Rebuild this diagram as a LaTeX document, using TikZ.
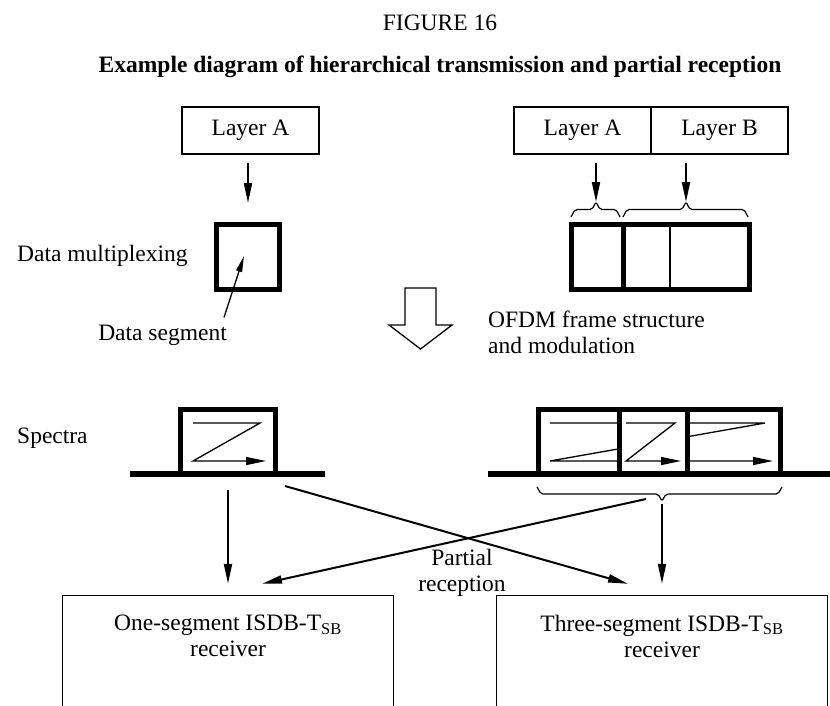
\documentclass[tikz,border=0pt]{standalone}
\usepackage{fontspec}
\setmainfont{Liberation Serif}
\usetikzlibrary{arrows.meta,positioning}

\tikzset{
  txt/.style={inner sep=0pt, font=\fontsize{23.5}{26}\selectfont},
  caption/.style={txt, font=\fontsize{23.5}{26}\selectfont\bfseries},
  layerbox/.style={txt, draw, line width=1.2pt, outer sep=0pt, minimum width=137pt, minimum height=47pt},
  segbox/.style={draw, line width=5pt, inner sep=0pt},
  arr/.style={line width=2pt, -{Triangle[length=20pt,width=8pt]}},
  zline/.style={line width=1.3pt, -{Triangle[length=20pt,width=8pt]}},
  lead/.style={line width=1.3pt, -{Triangle[length=16pt,width=6pt]}},
  brc/.style={line width=1.2pt, rounded corners=2pt},
  floor/.style={line width=6pt},
  rxline/.style={line width=1.2pt},
  rxbox/.style={txt, align=center, minimum width=330pt, minimum height=80pt},
}
\newcommand\zbrace[6]{%
  \draw[brc] (#2,#5) -- ++(4,#6) -- ({#4-4},{#5+#6}) -- (#4,{#5+2*(#6)}) coordinate (#1)
    -- ({#4+4},{#5+#6}) -- ({#3-4},{#5+#6}) -- (#3,#5);}

\begin{document}
\begin{tikzpicture}[x=1pt, y=-1pt]
  \useasboundingbox (0,0) rectangle (830,705);
  \node[txt, anchor=base] (fig) at (440,30) {FIGURE 16};
  \node[caption, anchor=base] (title) at (440,72) {Example diagram of hierarchical transmission and partial reception};

  % layers and data multiplexing
  \node[layerbox] (la1) at (250.5,130.5) {Layer A};
  \node[layerbox] (la2) at (582.5,130.5) {Layer A};
  \node[layerbox, right=0pt of la2] (lb2) {Layer B};
  \node[segbox, minimum width=63pt, minimum height=65pt] (mux) at (248,257) {};
  \node[segbox, minimum width=178pt, minimum height=65pt] (ofdm) at (660.5,257) {};
  \draw[line width=5pt] (623,224.5) -- (623,289.5);
  \draw[line width=1.5pt] (670,224.5) -- (670,289.5);
  \zbrace{ta}{571}{620}{596}{217}{-7.5}
  \zbrace{tb}{623}{748}{686}{217}{-7.5}
  \draw[arr, shorten <=9pt, shorten >=19pt] (mux.north |- la1.south) -- (mux.north);
  \draw[arr, shorten <=9pt] (la2.south -| ta) -- (ta);
  \draw[arr, shorten <=9pt] (lb2.south -| tb) -- (tb);

  \node[txt, anchor=base west] (mplx) at (17,261) {Data multiplexing};
  \node[txt, anchor=base east] (dseg) at (227,340) {Data segment};
  \coordinate (segpt) at (244,256);
  \draw[lead] ([shift={(-3pt,7pt)}]dseg.north east) -- (segpt);
  \draw[line width=1.3pt] (405,288) -- (436,288) -- (436,325) -- (452,325) -- (420.5,349)
    -- (389,325) -- (405,325) -- cycle;
  \node[txt, anchor=base west] (ofdmtxt) at (488,327) {OFDM frame structure};
  \node[txt, anchor=base west] (modtxt) at (488,353) {and modulation};

  % spectra
  \node[txt, anchor=base west] (spectra) at (17,443) {Spectra};
  \draw[zline] (193,423) -- (260,423) -- (193,461) -- (266,461);
  \draw[zline] (550,423) -- (765,423) -- (550,461) -- (773,461);
  \fill[white] (619,409.5) rectangle (687,471);
  \draw[zline] (626,423) -- (675,423) -- (626,461) -- (681,461);
  \node[segbox, minimum width=95pt, minimum height=64pt] (spec1) at (228,441.5) {};
  \node[segbox, minimum width=242pt, minimum height=64pt] (spec2) at (659.5,441.5) {};
  \draw[line width=5pt] (619,409.5) -- (619,473.5);
  \draw[line width=5pt] (687,409.5) -- (687,473.5);
  \draw[floor] (130,474) -- (325,474);
  \draw[floor] (488,474) -- (830,474);
  \zbrace{bt}{537}{782}{662}{487}{7}

  % receivers
  \node[rxbox] (rx1) at (228,636) {One-segment ISDB-T\textsubscript{SB}\\receiver};
  \node[rxbox] (rx2) at (662,636) {Three-segment ISDB-T\textsubscript{SB}\\receiver};
  \draw[rxline] (rx1.north west |- 0,706) -- (rx1.north west) -- (rx1.north east) -- (rx1.north east |- 0,706);
  \draw[rxline] (rx2.north west |- 0,706) -- (rx2.north west) -- (rx2.north east) -- (rx2.north east |- 0,706);
  \draw[arr, shorten <=14pt, shorten >=12pt] (spec1.south) -- (rx1.north);
  \draw[arr, shorten <=3pt, shorten >=12pt] (bt) -- (rx2.north);
  \draw[arr] ([shift={(57pt,-10pt)}]spec1.south) -- ([shift={(-34pt,12pt)}]rx2.north);
  \draw[arr] ([shift={(-16pt,2pt)}]bt) -- ([shift={(34pt,12pt)}]rx1.north);
  \node[txt, align=center, anchor=north] (partial) at (462,549) {Partial\\reception};
\end{tikzpicture}
\end{document}
